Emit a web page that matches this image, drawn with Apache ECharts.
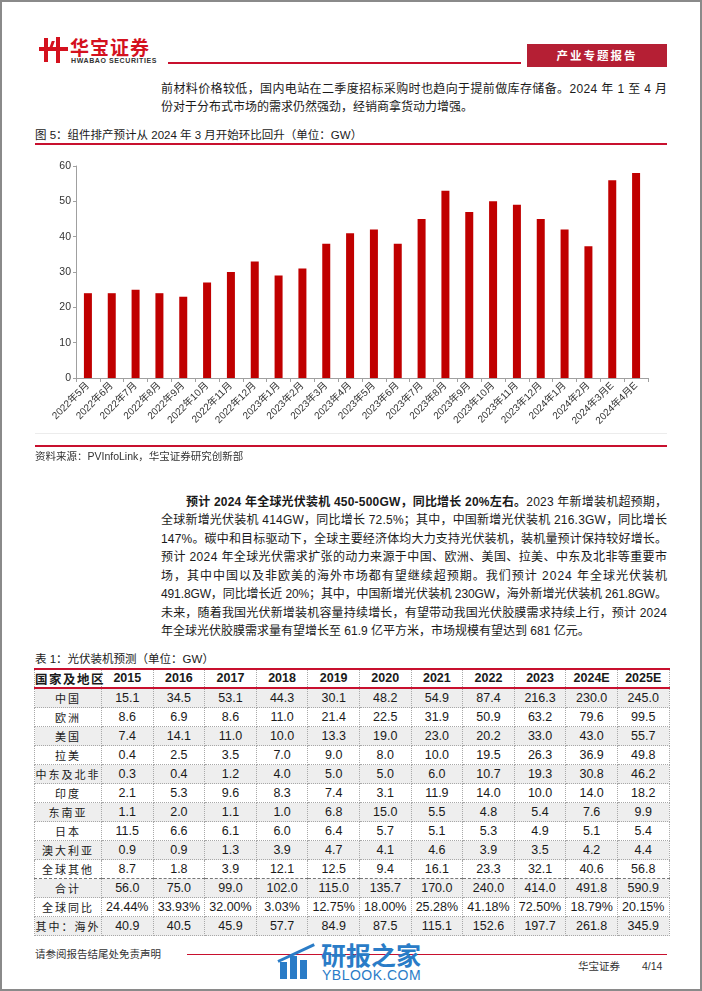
<!DOCTYPE html>
<html>
<head>
<meta charset="utf-8">
<script src="https://cdn.jsdelivr.net/npm/echarts/dist/echarts.min.js"></script>
<style>
html,body{margin:0;padding:0;background:#fff;}
#page{position:relative;width:702px;height:991px;overflow:hidden;background:#fff;
  font-family:"Liberation Sans","Noto Sans CJK SC",sans-serif;color:#1a1a1a;}
.abs{position:absolute;}
#frame{position:absolute;left:0;top:0;width:702px;height:991px;box-sizing:border-box;border:2px solid #8a8a8a;pointer-events:none;z-index:10;}
.para{position:absolute;left:161px;width:506px;font-size:12px;line-height:18.45px;}
.jl{white-space:nowrap;overflow:visible;}
.jl span.in{display:inline-block;}
table{border-collapse:collapse;table-layout:fixed;}
td{padding:0;text-align:center;height:18px;line-height:18px;font-size:12.5px;border:1px dotted #a8a8a8;white-space:nowrap;}
tr.hd td{font-weight:bold;font-size:12.5px;border-top:2px solid #c8102e;border-bottom:2px solid #c8102e;height:17px;line-height:17px;}
td.rg{font-size:11px;letter-spacing:2px;font-family:"Noto Sans CJK SC",sans-serif;}
tr.g td{background:#eeeeee;}
tr.sum td{border-top:1px dashed #777;}
</style>
</head>
<body>
<div id="page">
  <!-- header logo -->
  <div class="abs" style="left:44px;top:38px;width:4px;height:24px;background:#d4111e;"></div>
  <div class="abs" style="left:56px;top:37px;width:4px;height:26px;background:#d4111e;"></div>
  <div class="abs" style="left:39px;top:47px;width:29px;height:4px;background:#d4111e;"></div>
  <div class="abs" style="left:50px;top:41px;width:3px;height:10px;background:#d4111e;transform:skewX(-20deg);"></div>
  <div class="abs" style="left:70px;top:36px;font-size:19px;font-weight:bold;color:#d4111e;font-family:'Noto Sans CJK SC';letter-spacing:1px;line-height:22px;">华宝证券</div>
  <div class="abs" style="left:71px;top:57px;font-size:7px;font-weight:bold;color:#333;letter-spacing:0.6px;line-height:8px;">HWABAO SECURITIES</div>
  <div class="abs" style="left:168px;top:62px;width:353px;height:1.5px;background:#c8102e;"></div>
  <div class="abs" style="left:527px;top:44px;width:140px;height:23px;background:#b51f34;color:#fff;font-size:11.5px;font-weight:bold;text-align:center;line-height:23px;letter-spacing:2px;font-family:'Noto Sans CJK SC';">产业专题报告</div>

  <!-- paragraph 1 -->
  <div class="para" style="top:79.5px;">
    <div class="jl" data-j="1"><span class="in">前材料价格较低，国内电站在二季度招标采购时也趋向于提前做库存储备。2024 年 1 至 4 月</span></div>
    <div class="jl"><span class="in">份对于分布式市场的需求仍然强劲，经销商拿货动力增强。</span></div>
  </div>

  <!-- figure title -->
  <div class="abs" style="left:35px;top:127px;font-size:11.5px;line-height:16px;">图 5：组件排产预计从 2024 年 3 月开始环比回升（单位：GW）</div>
  <div class="abs" style="left:35px;top:143px;width:632px;height:1.5px;background:#c8102e;"></div>

  <div id="chart" class="abs" style="left:35px;top:150px;width:632px;height:290px;"></div>

  <div class="abs" style="left:35px;top:433px;width:632px;height:1px;background:#ececec;"></div>
  <div class="abs" style="left:35px;top:445px;width:632px;height:2px;background:#c8102e;"></div>
  <div class="abs" style="left:35px;top:449px;font-size:10.5px;line-height:14px;color:#333;">资料来源：PVInfoLink，华宝证券研究创新部</div>

  <!-- paragraph 2 -->
  <div class="para" style="top:492.8px;">
    <div class="jl" data-j="1" data-indent="25"><span class="in"><b>预计 2024 年全球光伏装机 450-500GW，同比增长 20%左右。</b>2023 年新增装机超预期，</span></div>
    <div class="jl" data-j="1"><span class="in">全球新增光伏装机 414GW，同比增长 72.5%；其中，中国新增光伏装机 216.3GW，同比增长</span></div>
    <div class="jl" data-j="1"><span class="in">147%。碳中和目标驱动下，全球主要经济体均大力支持光伏装机，装机量预计保持较好增长。</span></div>
    <div class="jl" data-j="1"><span class="in">预计 2024 年全球光伏需求扩张的动力来源于中国、欧洲、美国、拉美、中东及北非等重要市</span></div>
    <div class="jl" data-j="1"><span class="in">场，其中中国以及非欧美的海外市场都有望继续超预期。我们预计 2024 年全球光伏装机</span></div>
    <div class="jl" data-j="1"><span class="in">491.8GW，同比增长近 20%；其中，中国新增光伏装机 230GW，海外新增光伏装机 261.8GW。</span></div>
    <div class="jl" data-j="1"><span class="in">未来，随着我国光伏新增装机容量持续增长，有望带动我国光伏胶膜需求持续上行，预计 2024</span></div>
    <div class="jl"><span class="in">年全球光伏胶膜需求量有望增长至 61.9 亿平方米，市场规模有望达到 681 亿元。</span></div>
  </div>

  <!-- table -->
  <div class="abs" style="left:35px;top:651px;font-size:11.5px;line-height:16px;">表 1：光伏装机预测（单位：GW）</div>
  <div id="tbl" class="abs" style="left:34px;top:668px;"></div>

  <!-- footer -->
  <div class="abs" style="left:35px;top:947px;font-size:10.5px;line-height:14px;color:#333;">请参阅报告结尾处免责声明</div>
  <div class="abs" style="left:187px;top:954px;width:480px;height:1px;background:#c8102e;"></div>
  <div class="abs" style="left:578px;top:959px;font-size:10.5px;line-height:14px;color:#333;">华宝证券</div>
  <div class="abs" style="left:642px;top:959px;font-size:10.5px;line-height:14px;color:#333;">4/14</div>

  <!-- watermark -->
  <div class="abs" style="left:280px;top:962px;width:7px;height:17px;background:#2a7cc7;"></div>
  <div class="abs" style="left:290px;top:956px;width:7px;height:23px;background:#2a7cc7;"></div>
  <div class="abs" style="left:300px;top:960px;width:7px;height:19px;background:#2a7cc7;"></div>
  <div class="abs" style="left:278px;top:960px;width:40px;height:3px;background:#2a7cc7;transform:rotate(-25deg);transform-origin:left center;"></div>
  <div class="abs" style="left:321px;top:940px;font-size:25px;font-weight:bold;color:#2a7cc7;line-height:28px;font-family:'Noto Sans CJK SC';">研报之家</div>
  <div class="abs" style="left:322px;top:967px;font-size:14px;color:#2a7cc7;line-height:16px;letter-spacing:0.5px;">YBLOOK.COM</div>

  <div id="frame"></div>
</div>

<script>
// ---- chart data ----
const months = ["2022年5月","2022年6月","2022年7月","2022年8月","2022年9月","2022年10月","2022年11月","2022年12月",
  "2023年1月","2023年2月","2023年3月","2023年4月","2023年5月","2023年6月","2023年7月","2023年8月",
  "2023年9月","2023年10月","2023年11月","2023年12月","2024年1月","2024年2月","2024年3月E","2024年4月E"];
const moduleOutput = [24,24,25,24,23,27,30,33,29,31,38,41,42,38,45,53,47,50,49,45,42,37.3,56,58];
const yTicks = {min:0, max:60, interval:10};

// ---- table data ----
const years = ["2015","2016","2017","2018","2019","2020","2021","2022","2023","2024E","2025E"];
const regions = ["中国","欧洲","美国","拉美","中东及北非","印度","东南亚","日本","澳大利亚","全球其他","合计","全球同比","其中：海外"];
const china = [15.1,34.5,53.1,44.3,30.1,48.2,54.9,87.4,216.3,230.0,245.0];
const europe = [8.6,6.9,8.6,11.0,21.4,22.5,31.9,50.9,63.2,79.6,99.5];
const usa = [7.4,14.1,11.0,10.0,13.3,19.0,23.0,20.2,33.0,43.0,55.7];
const latam = [0.4,2.5,3.5,7.0,9.0,8.0,10.0,19.5,26.3,36.9,49.8];
const mena = [0.3,0.4,1.2,4.0,5.0,5.0,6.0,10.7,19.3,30.8,46.2];
const india = [2.1,5.3,9.6,8.3,7.4,3.1,11.9,14.0,10.0,14.0,18.2];
const seAsia = [1.1,2.0,1.1,1.0,6.8,15.0,5.5,4.8,5.4,7.6,9.9];
const japan = [11.5,6.6,6.1,6.0,6.4,5.7,5.1,5.3,4.9,5.1,5.4];
const australia = [0.9,0.9,1.3,3.9,4.7,4.1,4.6,3.9,3.5,4.2,4.4];
const otherWorld = [8.7,1.8,3.9,12.1,12.5,9.4,16.1,23.3,32.1,40.6,56.8];
const total = [56.0,75.0,99.0,102.0,115.0,135.7,170.0,240.0,414.0,491.8,590.9];
const yoyPct = [24.44,33.93,32.00,3.03,12.75,18.00,25.28,41.18,72.50,18.79,20.15];
const overseas = [40.9,40.5,45.9,57.7,84.9,87.5,115.1,152.6,197.7,261.8,345.9];

// ---- build table ----
(function(){
  const rows = [china,europe,usa,latam,mena,india,seAsia,japan,australia,otherWorld,total,yoyPct,overseas];
  let h = '<table style="width:635px;"><colgroup><col style="width:67px">';
  for (let i=0;i<years.length;i++) h += '<col style="width:51.6px">';
  h += '</colgroup><tr class="hd"><td class="rg" style="font-weight:bold;letter-spacing:1.5px;">国家及地区</td>';
  years.forEach(y => h += '<td>'+y+'</td>');
  h += '</tr>';
  rows.forEach((r,i) => {
    let cls = (i%2===0?'g':'');
    if (r===total) cls += ' sum';
    h += '<tr class="'+cls+'"><td class="rg">'+regions[i]+'</td>';
    r.forEach(v => {
      const s = (r===yoyPct) ? v.toFixed(2)+'%' : v.toFixed(1);
      h += '<td>'+s+'</td>';
    });
    h += '</tr>';
  });
  h += '</table>';
  document.getElementById('tbl').innerHTML = h;
})();

// ---- justify lines ----
document.querySelectorAll('.jl').forEach(el => {
  const indent = +(el.dataset.indent || 0);
  const inner = el.querySelector('.in');
  inner.style.marginLeft = indent + 'px';
  if (!el.dataset.j) return;
  const target = 506 - indent;
  const w = inner.getBoundingClientRect().width;
  const n = inner.textContent.length;
  const ls = (target - w) / (n - 1);
  inner.style.letterSpacing = ls + 'px';
});

// ---- chart ----
const chart = echarts.init(document.getElementById('chart'), null, {renderer:'canvas'});
chart.setOption({
  animation:false,
  grid:{left:41,right:19,top:16,bottom:62},
  xAxis:{
    type:'category', data:months, boundaryGap:true,
    axisLine:{lineStyle:{color:'#a0a0a0',width:1}},
    axisTick:{show:true,alignWithLabel:false,length:4,lineStyle:{color:'#a0a0a0'}},
    axisLabel:{rotate:45,interval:0,fontSize:10,color:'#333',margin:6,
      fontFamily:'"Liberation Sans","Noto Sans CJK SC",sans-serif'}
  },
  yAxis:{
    type:'value', min:yTicks.min, max:yTicks.max, interval:yTicks.interval,
    axisLine:{show:true,lineStyle:{color:'#a0a0a0'}},
    axisTick:{show:true,length:3,lineStyle:{color:'#a0a0a0'}},
    splitLine:{show:false},
    axisLabel:{fontSize:10.5,color:'#333',margin:5,fontFamily:'"Liberation Sans",sans-serif'}
  },
  series:[{type:'bar',data:moduleOutput,barWidth:8,itemStyle:{color:'#c00000'}}]
});
</script>
</body>
</html>
